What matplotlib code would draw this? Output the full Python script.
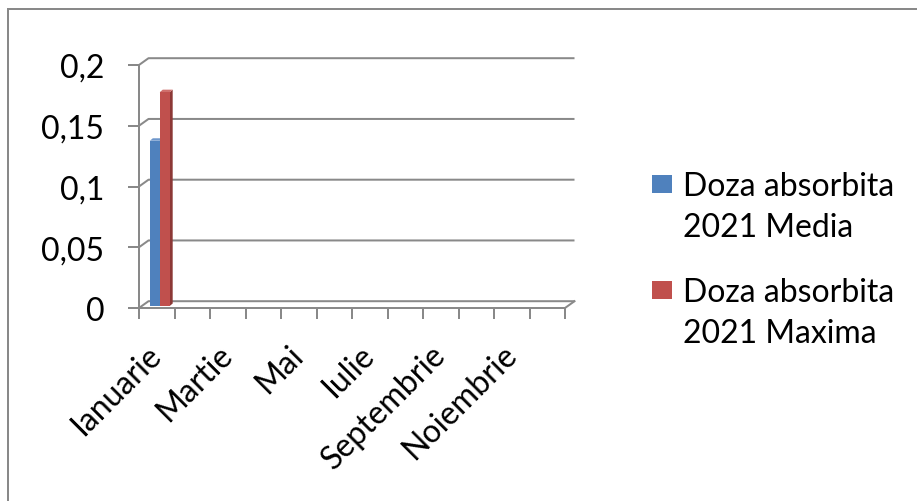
import numpy as np
import matplotlib
matplotlib.use("Agg")
import matplotlib.pyplot as plt
from matplotlib.lines import Line2D
from matplotlib.patches import Rectangle, Polygon

# Monthly absorbed dose, 2021
months = ["Ianuarie", "Februarie", "Martie", "Aprilie", "Mai", "Iunie",
          "Iulie", "August", "Septembrie", "Octombrie", "Noiembrie", "Decembrie"]
media = [0.136] + [np.nan] * 11
maxima = [0.176] + [np.nan] * 11
series_names = ["Doza absorbita\n2021 Media", "Doza absorbita\n2021 Maxima"]
yticks = [0, 0.05, 0.1, 0.15, 0.2]
ytick_labels = ["0", "0,05", "0,1", "0,15", "0,2"]

front_colors = ["#4F81BD", "#C0504D"]
side_colors = ["#385D8A", "#8C3836"]
top_colors = ["#6F97CB", "#CF6F6C"]
grid_color = "#898989"

plt.rcParams["font.family"] = ["Lato", "DejaVu Sans"]
FS = 23

W, H = 917, 502
fig = plt.figure(figsize=(W / 100, H / 100), dpi=100)
fig.patch.set_facecolor("white")

# plot area (front plane) in pixels
x0, x1 = 139, 565
y0, y1 = 309, 66
ax = fig.add_axes([x0 / W, 1 - y0 / H, (x1 - x0) / W, (y0 - y1) / H])
n = len(months)
ax.set_xlim(0, n)
ax.set_ylim(0, 0.2)
ax.set_facecolor("none")

# depth offsets of the pseudo-3D back wall (data units)
px_x = n / (x1 - x0)
px_y = 0.2 / (y0 - y1)
DX, DY = 9.5 * px_x, 6.8 * px_y
# bar depth placement and thickness
BDX, BDY = 3 * px_x, 2 * px_y
SDX, SDY = 3 * px_x, 2.5 * px_y

lw = 2.0 * 72 / 100

# back-wall gridlines with diagonals to the front axis
for yv in yticks:
    ax.plot([0, DX, n + DX], [yv, yv + DY, yv + DY], color=grid_color,
            lw=lw, clip_on=False, solid_capstyle="butt", zorder=1)
# floor right edge
ax.plot([n, n + DX], [0, DY], color=grid_color, lw=lw, clip_on=False, zorder=1)

# bars
w = 0.28
for i, (vals, fc, sc, tc) in enumerate(zip([media, maxima], front_colors,
                                            side_colors, top_colors)):
    for k, v in enumerate(vals):
        if np.isnan(v):
            continue
        left = k + 0.5 - w + i * w + BDX
        bottom = BDY
        top = bottom + v
        right = left + w
        ax.add_patch(Polygon([[right, bottom], [right + SDX, bottom + SDY],
                              [right + SDX, top + SDY], [right, top]],
                             closed=True, facecolor=sc, edgecolor="none",
                             clip_on=False, zorder=3))
        ax.add_patch(Polygon([[left, top], [right, top], [right + SDX, top + SDY],
                              [left + SDX, top + SDY]], closed=True,
                             facecolor=tc, edgecolor="none", clip_on=False, zorder=3))
        ax.bar(left, v, width=w, bottom=bottom, align="edge", color=fc,
               edgecolor="none", zorder=4, clip_on=False)

# axes lines and ticks
for s in ["top", "right"]:
    ax.spines[s].set_visible(False)
for s in ["left", "bottom"]:
    ax.spines[s].set_color(grid_color)
    ax.spines[s].set_linewidth(lw)
    ax.spines[s].set_zorder(5)

ax.set_yticks(yticks)
ax.set_yticklabels(ytick_labels, fontsize=FS)
ax.tick_params(axis="y", length=8, width=lw, color=grid_color, pad=17)

ax.set_xticks(np.arange(n + 1))
ax.set_xticklabels([])
ax.tick_params(axis="x", which="major", length=8, width=lw, color=grid_color)
ax.set_xticks(np.arange(n) + 0.5, minor=True)
ax.set_xticklabels([m if i % 2 == 0 else "" for i, m in enumerate(months)],
                   minor=True, fontsize=FS, rotation=45, ha="right", va="center",
                   rotation_mode="anchor")
ax.tick_params(axis="x", which="minor", length=0, pad=30)

# legend
leg_x = 652
for i, (name, fc) in enumerate(zip(series_names, front_colors)):
    top_px = 176 + i * 106
    fig.patches.append(Rectangle((leg_x / W, 1 - (top_px + 18) / H), 20 / W, 18 / H,
                                 transform=fig.transFigure, facecolor=fc,
                                 edgecolor="none"))
    for j, line in enumerate(name.split("\n")):
        fig.text(683 / W, 1 - (top_px + 20 + j * 41) / H, line, fontsize=FS,
                 va="baseline", ha="left")

# chart frame
fig.add_artist(Line2D([8 / W, 8 / W], [0, 1 - 10 / H], transform=fig.transFigure,
                      color=grid_color, lw=lw))
fig.add_artist(Line2D([8 / W, 1], [1 - 10 / H, 1 - 10 / H], transform=fig.transFigure,
                      color=grid_color, lw=lw))

fig.savefig("out.png", dpi=100)
